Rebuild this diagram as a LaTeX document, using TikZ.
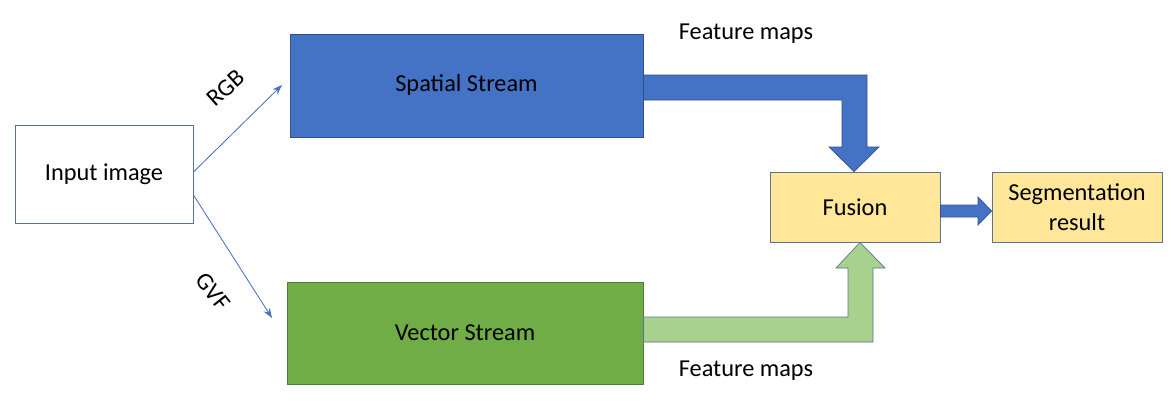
\documentclass[tikz,border=0pt]{standalone}
\usepackage{fontspec}
\setmainfont{Carlito}
\usetikzlibrary{arrows.meta,calc}

\definecolor{spatialblue}{HTML}{4472C4}
\definecolor{blueline}{HTML}{2F528F}
\definecolor{vectorgreen}{HTML}{70AD47}
\definecolor{greenline}{HTML}{507E32}
\definecolor{lightgreen}{HTML}{A9D18E}
\definecolor{fusionyellow}{HTML}{FFE699}
\definecolor{boxline}{HTML}{5A7394}

\begin{document}
\begin{tikzpicture}[x=0.025cm,y=-0.025cm]
	\tikzstyle{block} = [draw=boxline, line width=0.6pt, rectangle, align=center, font=\fontsize{17.3}{21}\selectfont]
	\tikzstyle{thin_arrow} = [draw=spatialblue, line width=0.6pt, -{Stealth[length=7pt,width=5pt]}]
	\tikzstyle{label_text} = [font=\fontsize{17.3}{21}\selectfont]
	\useasboundingbox (0,0) rectangle (1171,408);
	% Blocks
	\node[block, minimum width=4.45cm, minimum height=2.45cm] (input) at (104,174) {Input image};
	\node[block, draw=blueline, fill=spatialblue, minimum width=8.825cm, minimum height=2.575cm] (spatial) at (466.5,85.5) {Spatial Stream};
	\node[block, draw=greenline, fill=vectorgreen, minimum width=8.9cm, minimum height=2.55cm] (vector) at (465,333) {Vector Stream};
	\node[block, fill=fusionyellow, minimum width=4.25cm, minimum height=1.75cm] (fusion) at (855,207) {Fusion};
	\node[block, fill=fusionyellow, minimum width=4.25cm, minimum height=1.75cm] (seg) at (1077,207) {Segmentation\\result};
	% Labels
	\node[label_text] (fm1) at (746,34) {Feature maps};
	\node[label_text] (fm2) at (746,371) {Feature maps};
	\node[label_text, rotate=42, inner sep=0pt] (rgb) at (226,88) {RGB};
	\node[label_text, rotate=-52, inner sep=0pt] (gvf) at (213,292) {GVF};

	% Input arrows
	\coordinate (rgbend) at (282,85);
	\coordinate (gvfend) at (272,318);
	\draw [thin_arrow] ($(input.east)+(0,-2)$) -- (rgbend);
	\draw [thin_arrow] ($(input.east)+(0,21)$) -- (gvfend);

	% Feature map arrows
	\filldraw[fill=spatialblue, draw=blueline, line width=0.5pt]
		(spatial.east |- 0,75) -- (867,75) -- (867,147) -- (879,147) -- (fusion.north -| 854,0)
		-- (829,147) -- (842,147) -- (842,100) -- (spatial.east |- 0,100) -- cycle;
	\filldraw[fill=lightgreen, draw=boxline, line width=0.5pt]
		(vector.east |- 0,317) -- (848,317) -- (848,268) -- (836,268) -- (fusion.south -| 860,0)
		-- (885,268) -- (873,268) -- (873,342) -- (vector.east |- 0,342) -- cycle;
	% Output arrow
	\filldraw[fill=spatialblue, draw=blueline, line width=0.5pt]
		(fusion.east |- 0,205) -- (978,205) -- (978,197) -- (seg.west |- 0,211)
		-- (978,225) -- (978,217) -- (fusion.east |- 0,217) -- cycle;
\end{tikzpicture}
\end{document}
